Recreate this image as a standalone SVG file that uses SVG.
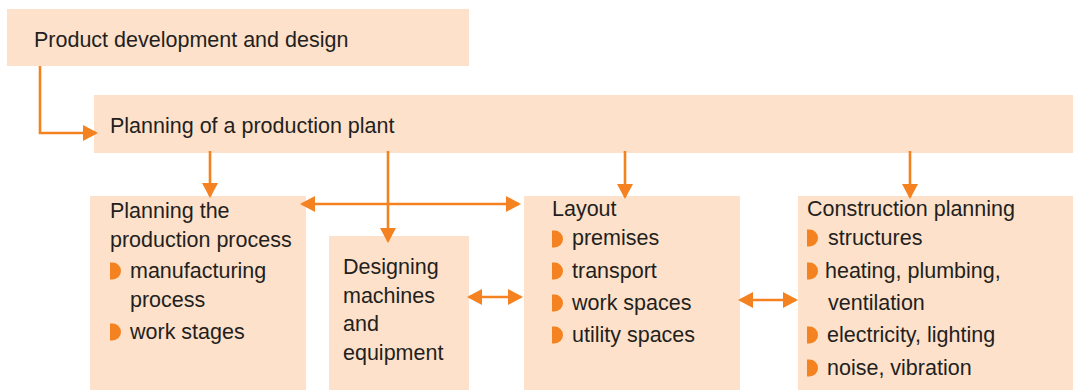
<svg xmlns="http://www.w3.org/2000/svg" width="1073" height="390" viewBox="0 0 1073 390">
<defs>
<style>
.box{fill:#FDE1CA;}
.t{font-family:"Liberation Sans",Arial,sans-serif;font-size:21.5px;fill:#231F20;}
.c{stroke:#F58220;stroke-width:2.6;fill:none;}
.b{fill:#F58220;}
</style>
<marker id="ah" viewBox="0 0 15 16" refX="13" refY="8" markerWidth="15" markerHeight="16" markerUnits="userSpaceOnUse" orient="auto-start-reverse">
<path d="M0,0 L15,8 L0,16 z" fill="#F58220"/>
</marker>
<path id="bul" d="M0,-0.5 h2.5 a8.5,8.5 0 0 1 0,17 h-2.5 z"/>
</defs>
<rect width="1073" height="390" fill="#ffffff"/>

<g id="product-development">
<rect class="box" x="7" y="9" width="462" height="57"/>
<text class="t" x="34" y="47">Product development and design</text>
</g>

<g id="planning-plant">
<rect class="box" x="94" y="95" width="979" height="58"/>
<text class="t" x="110" y="133">Planning of a production plant</text>
</g>

<g id="planning-process">
<rect class="box" x="90" y="196" width="216" height="194"/>
<text class="t" x="110" y="218">Planning the</text>
<text class="t" x="110" y="247">production process</text>
<use href="#bul" class="b" x="110" y="263"/>
<text class="t" x="130" y="278">manufacturing</text>
<text class="t" x="130" y="307">process</text>
<use href="#bul" class="b" x="110" y="324"/>
<text class="t" x="130" y="339">work stages</text>
</g>

<g id="designing-machines">
<rect class="box" x="329" y="236" width="140" height="154"/>
<text class="t" x="343" y="274">Designing</text>
<text class="t" x="343" y="303">machines</text>
<text class="t" x="343" y="331">and</text>
<text class="t" x="343" y="360">equipment</text>
</g>

<g id="layout">
<rect class="box" x="524" y="196" width="216" height="194"/>
<text class="t" x="552" y="216">Layout</text>
<use href="#bul" class="b" x="552" y="231"/>
<text class="t" x="572" y="245">premises</text>
<use href="#bul" class="b" x="552" y="263"/>
<text class="t" x="572" y="278">transport</text>
<use href="#bul" class="b" x="552" y="295"/>
<text class="t" x="572" y="310">work spaces</text>
<use href="#bul" class="b" x="552" y="327"/>
<text class="t" x="572" y="342">utility spaces</text>
</g>

<g id="construction-planning">
<rect class="box" x="798" y="196" width="275" height="194"/>
<text class="t" x="807" y="216">Construction planning</text>
<use href="#bul" class="b" x="807" y="230"/>
<text class="t" x="828" y="245">structures</text>
<use href="#bul" class="b" x="807" y="263"/>
<text class="t" x="825" y="278">heating, plumbing,</text>
<text class="t" x="828" y="310">ventilation</text>
<use href="#bul" class="b" x="807" y="327"/>
<text class="t" x="827" y="342">electricity, lighting</text>
<use href="#bul" class="b" x="807" y="360"/>
<text class="t" x="827" y="375">noise, vibration</text>
</g>

<g id="connectors">
<path class="c" d="M40,66 V133 H96" marker-end="url(#ah)"/>
<line class="c" x1="210" y1="151" x2="210" y2="196" marker-end="url(#ah)"/>
<line class="c" x1="388" y1="151" x2="388" y2="241" marker-end="url(#ah)"/>
<line class="c" x1="625" y1="151" x2="625" y2="197" marker-end="url(#ah)"/>
<line class="c" x1="910" y1="151" x2="910" y2="197" marker-end="url(#ah)"/>
<line class="c" x1="302" y1="204" x2="519" y2="204" marker-start="url(#ah)" marker-end="url(#ah)"/>
<line class="c" x1="469" y1="297" x2="521" y2="297" marker-start="url(#ah)" marker-end="url(#ah)"/>
<line class="c" x1="740" y1="300" x2="796" y2="300" marker-start="url(#ah)" marker-end="url(#ah)"/>
</g>
</svg>
